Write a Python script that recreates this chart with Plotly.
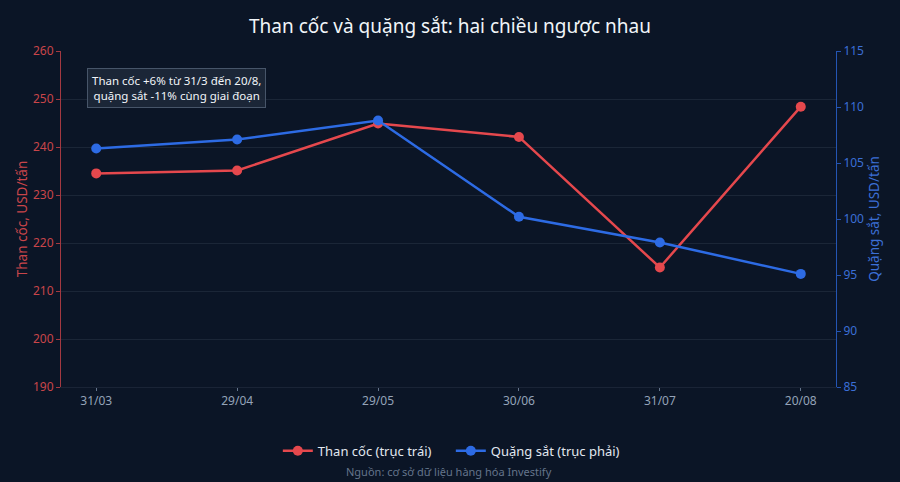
import plotly.graph_objects as go

dates = ["31/03", "29/04", "29/05", "30/06", "31/07", "20/08"]
coking_coal = [234.5, 235.1, 244.9, 242.1, 214.9, 248.4]
iron_ore = [106.3, 107.1, 108.8, 100.2, 97.9, 95.1]

RED = "#e5484d"
BLUE = "#2d6be4"
BG = "#0b1526"
FONT = "Noto Sans"

fig = go.Figure()
fig.add_trace(go.Scatter(
    x=dates, y=coking_coal, name="Than cốc (trục trái)", mode="lines+markers",
    line=dict(color=RED, width=2.5), marker=dict(size=10, color=RED), yaxis="y"))
fig.add_trace(go.Scatter(
    x=dates, y=iron_ore, name="Quặng sắt (trục phải)", mode="lines+markers",
    line=dict(color=BLUE, width=2.5), marker=dict(size=10, color=BLUE), yaxis="y2"))

fig.update_layout(
    width=900, height=482,
    paper_bgcolor=BG, plot_bgcolor=BG,
    font=dict(family=FONT, color="#e2e8f0", size=12),
    margin=dict(l=61, r=64, t=51, b=95),
    title=dict(text="Than cốc và quặng sắt: hai chiều ngược nhau", x=0.5, xanchor="center",
               y=0.945, yanchor="middle", font=dict(size=19, color="#f1f5f9", family=FONT)),
    xaxis=dict(type="category", range=[-0.25, 5.25], showgrid=False,
               showline=True, linecolor="#1a2436", linewidth=1,
               ticks="outside", ticklen=3, tickcolor="#64748b",
               tickfont=dict(color="#94a3b8", size=12)),
    yaxis=dict(range=[190, 260], dtick=10, showgrid=True, gridcolor="rgba(148,163,184,0.12)",
               zeroline=False, showline=True, linecolor="rgba(229,72,77,0.7)", linewidth=1,
               ticks="outside", ticklen=4, tickcolor="rgba(229,72,77,0.7)",
               tickfont=dict(color="#c9454a", size=12),
               title=dict(text="Than cốc, USD/tấn", font=dict(color="#c9454a", size=13.5), standoff=2)),
    yaxis2=dict(range=[85, 115], dtick=5, overlaying="y", side="right", showgrid=False,
                zeroline=False, showline=True, linecolor="rgba(45,107,228,0.75)", linewidth=1,
                ticks="outside", ticklen=4, tickcolor="rgba(45,107,228,0.75)",
                tickfont=dict(color="#3b6fd6", size=12),
                title=dict(text="Quặng sắt, USD/tấn", font=dict(color="#3b6fd6", size=13.5), standoff=6)),
    legend=dict(orientation="h", x=0.503, xanchor="center", y=-0.19, yanchor="middle",
                font=dict(size=13, color="#e2e8f0"), bgcolor="rgba(0,0,0,0)",
                entrywidth=128, entrywidthmode="pixels"),
    showlegend=True,
)

fig.add_annotation(
    text="Than cốc +6% từ 31/3 đến 20/8,<br>quặng sắt -11% cùng giai đoạn",
    xref="paper", yref="paper", x=0.034, y=0.948, xanchor="left", yanchor="top",
    showarrow=False, align="center", font=dict(size=11.5, color="#f1f5f9"),
    bgcolor="rgba(30,41,59,0.85)", bordercolor="#475569", borderwidth=1, borderpad=4)

fig.add_annotation(
    text="Nguồn: cơ sở dữ liệu hàng hóa Investify",
    xref="paper", yref="paper", x=0.5, y=-0.25, xanchor="center", yanchor="middle",
    showarrow=False, font=dict(size=11, color="#64748b"))

fig.write_html("out.html", config={"displayModeBar": False},
               post_script="document.body.style.margin='0';document.body.style.background='%s';" % BG)
